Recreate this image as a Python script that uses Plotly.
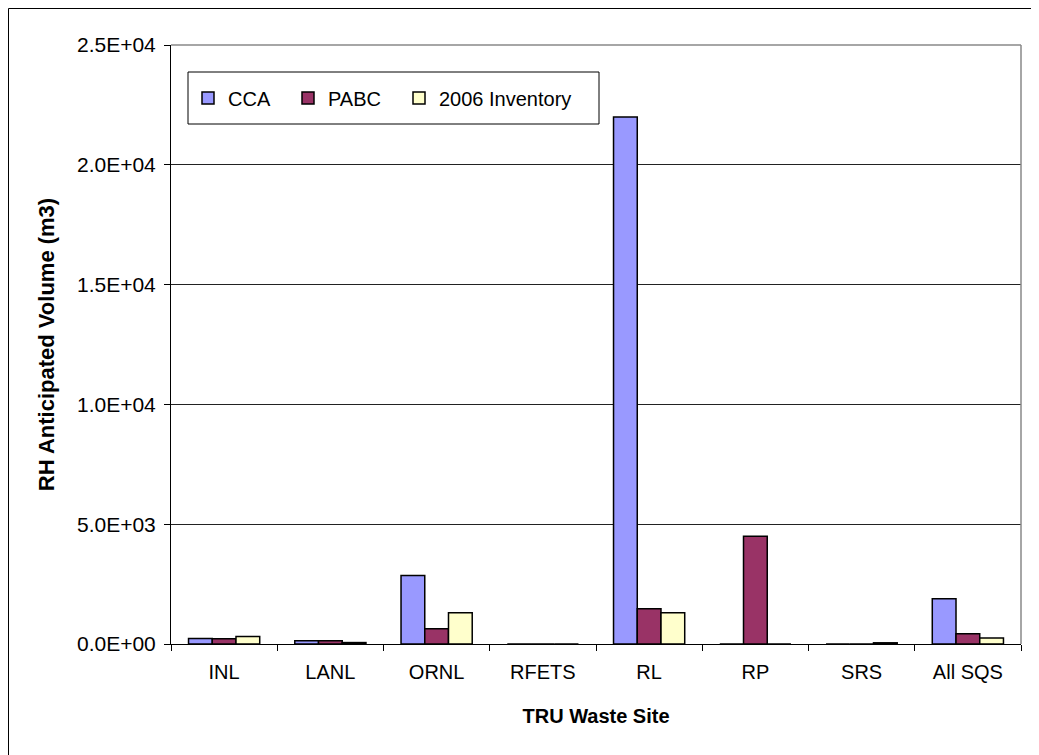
import plotly.graph_objects as go

# Sites on the x axis
sites = ["INL", "LANL", "ORNL", "RFETS", "RL", "RP", "SRS", "All SQS"]

# RH anticipated volume (m3) by series
cca = [225, 140, 2860, 0, 22000, 0, 0, 1890]
pabc = [220, 140, 640, 0, 1470, 4500, 0, 430]
inv_2006 = [310, 60, 1300, 0, 1300, 0, 50, 250]

# Y axis ticks
y_ticks = [0, 5000, 10000, 15000, 20000, 25000]
y_tick_text = ["0.0E+00", "5.0E+03", "1.0E+04", "1.5E+04", "2.0E+04", "2.5E+04"]

FONT = "Liberation Sans, Arial, sans-serif"

# the page body has an 8px margin, so page pixels are shifted by OFF
OFF = 8
W, H = 1039 - OFF, 755 - OFF
# plot area in page pixels: x 171..1021, y 45..644
L, R, T, B = 171, 1021, 45, 644

def px_x(px):
    return (px - L) / (R - L)

def px_y(py):
    return (B - py) / (B - T)

fig = go.Figure()

# each series gets its own legend so the entries sit where the reference has them
series = [
    ("CCA", cca, "#9999FF", "legend", 188),
    ("PABC", pabc, "#993366", "legend2", 288),
    ("2006 Inventory", inv_2006, "#FFFFCC", "legend3", 399),
]
legends = {}
for name, vals, color, leg, lx in series:
    fig.add_trace(go.Bar(
        name=name,
        x=sites,
        y=vals,
        legend=leg,
        marker=dict(color=color, line=dict(color="black", width=1.5)),
    ))
    legends[leg] = dict(
        orientation="h",
        x=px_x(lx), y=px_y(98),
        xanchor="left", yanchor="middle",
        borderwidth=0,
        bgcolor="rgba(0,0,0,0)",
        font=dict(size=20),
    )

fig.update_layout(
    width=W,
    height=H,
    margin=dict(l=L - OFF, r=W - (R - OFF), t=T - OFF, b=H - (B - OFF), pad=0),
    paper_bgcolor="white",
    plot_bgcolor="white",
    barmode="group",
    bargap=0.33,
    bargroupgap=0,
    font=dict(family=FONT, size=20, color="black"),
    xaxis=dict(
        title=dict(text="<b>TRU Waste Site</b>", font=dict(size=20), standoff=26),
        showline=True, linecolor="black", linewidth=1,
        ticks="outside", tickson="boundaries", ticklen=6, tickcolor="black",
        ticklabelstandoff=10,
        tickfont=dict(size=20),
        showgrid=False,
    ),
    yaxis=dict(
        title=dict(text="<b>RH Anticipated Volume (m3)</b>", font=dict(size=22), standoff=16),
        range=[0, 25000],
        tickvals=y_ticks,
        ticktext=y_tick_text,
        tickfont=dict(size=21),
        showline=True, linecolor="black", linewidth=1,
        ticks="outside", ticklen=6, tickcolor="black",
        ticklabelstandoff=4,
        showgrid=True, gridcolor="#222222", gridwidth=1,
        zeroline=False,
    ),
    showlegend=True,
    **legends,
)

# gray frame on top and right of plot area
fig.add_shape(type="line", xref="paper", yref="paper", x0=0, x1=1, y0=1, y1=1,
              line=dict(color="#888888", width=1.5))
fig.add_shape(type="line", xref="paper", yref="paper", x0=1, x1=1, y0=0, y1=1,
              line=dict(color="#888888", width=1.5))

# legend box
fig.add_shape(type="rect", xref="paper", yref="paper",
              x0=px_x(188), x1=px_x(599), y0=px_y(72), y1=px_y(124),
              line=dict(color="black", width=1), fillcolor="white", layer="above")

# outer chart frame (left and top edges visible)
fig.add_shape(type="rect", xref="paper", yref="paper",
              x0=px_x(OFF + 0.5), x1=px_x(1060), y0=px_y(OFF + 0.5), y1=px_y(780),
              line=dict(color="black", width=1), layer="below")

fig.write_html("out.html")
